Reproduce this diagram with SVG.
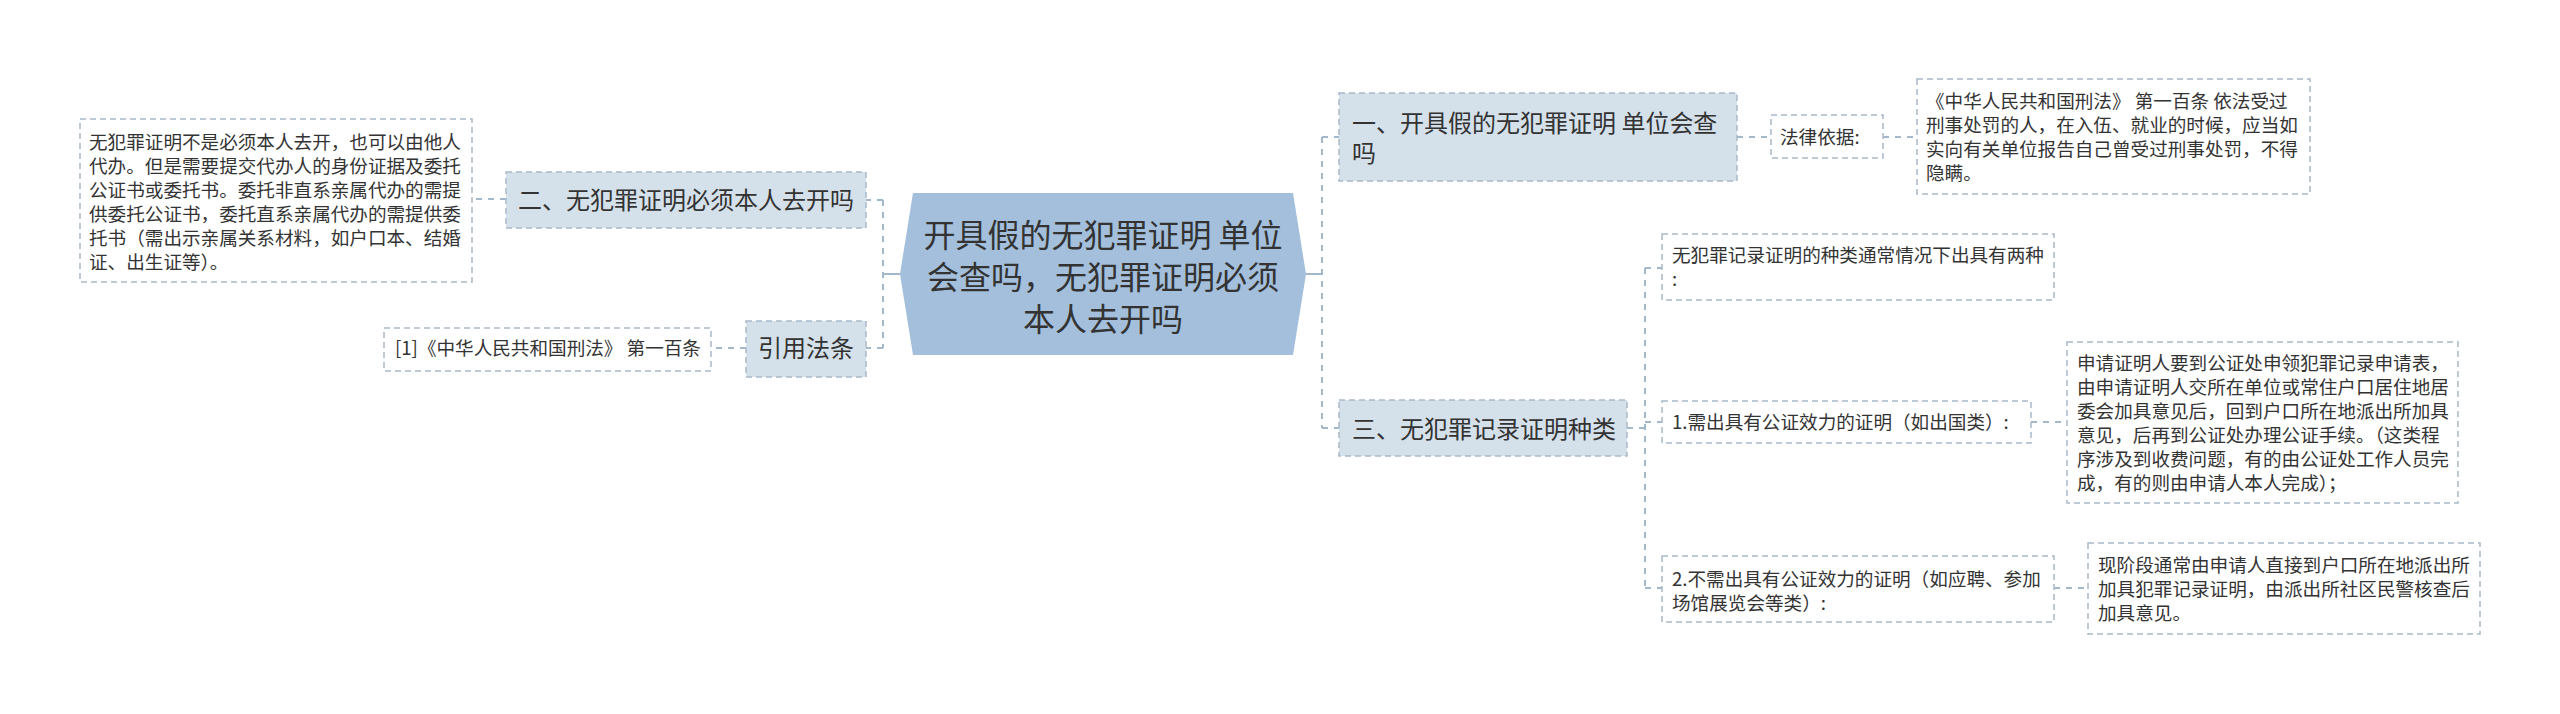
<svg xmlns="http://www.w3.org/2000/svg" width="2560" height="714" viewBox="0 0 2560 714">
<style>
text{font-family:"Microsoft YaHei","Noto Sans CJK SC","Noto Sans",sans-serif;fill:#333333}
.t18{font-size:18.6px}
.t24{font-size:24px}
.t32{font-size:32px}
.box{fill:#ffffff;stroke:#a9b9c9;stroke-width:1.5;stroke-dasharray:6 4}
.node{fill:#d5e1ea;stroke:#a9b9c9;stroke-width:1.5;stroke-dasharray:6 4}
.conn{fill:none;stroke:#a3b8cb;stroke-width:2;stroke-dasharray:6 6}
.solid{fill:none;stroke:#a3b8cb;stroke-width:2}
</style>
<rect width="2560" height="714" fill="#ffffff"/>
<g id="connectors">
<path class="solid" d="M900 274 H883"/>
<path class="conn" d="M883 200 V348"/>
<path class="conn" d="M883 200 H866"/>
<path class="conn" d="M883 348 H866"/>
<path class="conn" d="M506 199 H472"/>
<path class="conn" d="M746 348 H711"/>
<path class="solid" d="M1306 274 H1322"/>
<path class="conn" d="M1322 137 V428"/>
<path class="conn" d="M1322 137 H1339"/>
<path class="conn" d="M1322 428 H1339"/>
<path class="conn" d="M1737 137 H1771"/>
<path class="conn" d="M1883 137 H1917"/>
<path class="conn" d="M1627 428 H1645"/>
<path class="conn" d="M1645 268 V588"/>
<path class="conn" d="M1645 268 H1662"/>
<path class="conn" d="M1645 422 H1662"/>
<path class="conn" d="M1645 588 H1662"/>
<path class="conn" d="M2031 422 H2067"/>
<path class="conn" d="M2054 588 H2087"/>
</g>
<g id="center">
<polygon points="913,193 1293,193 1306,274 1293,355 913,355 900,274" fill="#a3bfdb"/>
<text class="t32" x="1103" y="247" text-anchor="middle">开具假的无犯罪证明 单位</text>
<text class="t32" x="1103" y="289" text-anchor="middle">会查吗，无犯罪证明必须</text>
<text class="t32" x="1103" y="331" text-anchor="middle">本人去开吗</text>
</g>
<g id="node2">
<rect class="node" x="506" y="172" width="360" height="56"/>
<text class="t24" x="518" y="209">二、无犯罪证明必须本人去开吗</text>
</g>
<g id="node2-detail">
<rect class="box" x="80" y="119" width="392" height="163"/>
<text class="t18" x="89" y="149">无犯罪证明不是必须本人去开，也可以由他人</text>
<text class="t18" x="89" y="173">代办。但是需要提交代办人的身份证据及委托</text>
<text class="t18" x="89" y="197">公证书或委托书。委托非直系亲属代办的需提</text>
<text class="t18" x="89" y="221">供委托公证书，委托直系亲属代办的需提供委</text>
<text class="t18" x="89" y="245">托书（需出示亲属关系材料，如户口本、结婚</text>
<text class="t18" x="89" y="269">证、出生证等）。</text>
</g>
<g id="cite">
<rect class="node" x="746" y="321" width="120" height="56"/>
<text class="t24" x="758" y="357">引用法条</text>
</g>
<g id="cite-detail">
<rect class="box" x="384" y="328" width="327" height="43"/>
<text class="t18" x="395" y="355">[1]《中华人民共和国刑法》 第一百条</text>
</g>
<g id="node1">
<rect class="node" x="1339" y="93" width="398" height="88"/>
<text class="t24" x="1352" y="132">一、开具假的无犯罪证明 单位会查</text>
<text class="t24" x="1352" y="162">吗</text>
</g>
<g id="law-basis">
<rect class="box" x="1771" y="115" width="112" height="43"/>
<text class="t18" x="1780" y="144">法律依据:</text>
</g>
<g id="law-text">
<rect class="box" x="1917" y="79" width="393" height="115"/>
<text class="t18" x="1926" y="108">《中华人民共和国刑法》 第一百条 依法受过</text>
<text class="t18" x="1926" y="132">刑事处罚的人，在入伍、就业的时候，应当如</text>
<text class="t18" x="1926" y="156">实向有关单位报告自己曾受过刑事处罚，不得</text>
<text class="t18" x="1926" y="180">隐瞒。</text>
</g>
<g id="node3">
<rect class="node" x="1339" y="400" width="288" height="56"/>
<text class="t24" x="1352" y="438">三、无犯罪记录证明种类</text>
</g>
<g id="kinds">
<rect class="box" x="1662" y="234" width="392" height="66"/>
<text class="t18" x="1672" y="262">无犯罪记录证明的种类通常情况下出具有两种</text>
<text class="t18" x="1672" y="286">:</text>
</g>
<g id="kind1">
<rect class="box" x="1662" y="401" width="369" height="42"/>
<text class="t18" x="1672" y="429">1.需出具有公证效力的证明（如出国类）:</text>
</g>
<g id="kind1-detail">
<rect class="box" x="2067" y="342" width="391" height="161"/>
<text class="t18" x="2077" y="370">申请证明人要到公证处申领犯罪记录申请表，</text>
<text class="t18" x="2077" y="394">由申请证明人交所在单位或常住户口居住地居</text>
<text class="t18" x="2077" y="418">委会加具意见后，回到户口所在地派出所加具</text>
<text class="t18" x="2077" y="442">意见，后再到公证处办理公证手续。（这类程</text>
<text class="t18" x="2077" y="466">序涉及到收费问题，有的由公证处工作人员完</text>
<text class="t18" x="2077" y="490">成，有的则由申请人本人完成）；</text>
</g>
<g id="kind2">
<rect class="box" x="1662" y="556" width="392" height="66"/>
<text class="t18" x="1672" y="586">2.不需出具有公证效力的证明（如应聘、参加</text>
<text class="t18" x="1672" y="610">场馆展览会等类）:</text>
</g>
<g id="kind2-detail">
<rect class="box" x="2088" y="543" width="392" height="91"/>
<text class="t18" x="2098" y="572">现阶段通常由申请人直接到户口所在地派出所</text>
<text class="t18" x="2098" y="596">加具犯罪记录证明，由派出所社区民警核查后</text>
<text class="t18" x="2098" y="620">加具意见。</text>
</g>
</svg>
